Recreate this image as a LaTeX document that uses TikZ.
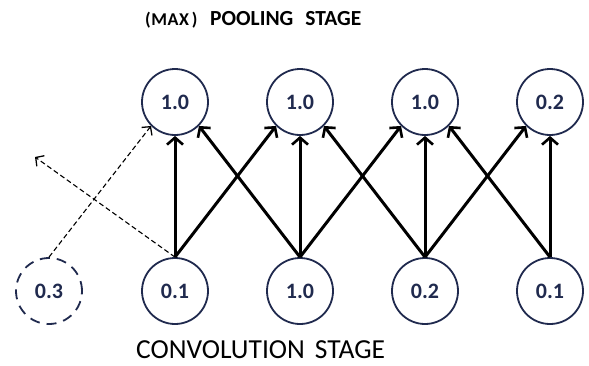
\documentclass[tikz,border=0pt]{standalone}
\usepackage{fontspec}
\setmainfont{Carlito}
\usetikzlibrary{arrows.meta}
\definecolor{navy}{RGB}{32,42,78}
\begin{document}
\begin{tikzpicture}[x=1pt,y=-1pt,
  unit/.style={circle,draw=navy,line width=1.8pt,minimum size=66pt,inner sep=0pt,
    text=navy,font=\fontsize{22}{25}\selectfont\bfseries},
  ghost/.style={unit,dashed,dash pattern=on 10pt off 7pt},
  link/.style={line width=3pt,-{Straight Barb[length=7pt,width=16pt,line width=2.6pt]}},
  hint/.style={line width=1.1pt,dash pattern=on 5pt off 3pt,
    -{Straight Barb[length=6pt,width=13pt,line width=1.3pt]}},
  caption/.style={inner sep=0pt,anchor=base west}]
\useasboundingbox (0,0) rectangle (589,365);

% pooling layer
\node[unit] (p1) at (175,102) {1.0};
\node[unit] (p2) at (300,102) {1.0};
\node[unit] (p3) at (425,102) {1.0};
\node[unit] (p4) at (550,102) {0.2};

% convolution layer
\node[ghost] (c0) at (49,291) {0.3};
\node[unit] (c1) at (175,291) {0.1};
\node[unit] (c2) at (300,291) {1.0};
\node[unit] (c3) at (425,291) {0.2};
\node[unit] (c4) at (550,291) {0.1};

% each pooling unit takes the max over three neighbours
\draw[link] (c1.north) -- (p1.south);
\draw[link] (c1.north) -- (p2.south west);
\draw[link] (c2.north) -- (p1.south east);
\draw[link] (c2.north) -- (p2.south);
\draw[link] (c2.north) -- (p3.south west);
\draw[link] (c3.north) -- (p2.south east);
\draw[link] (c3.north) -- (p3.south);
\draw[link] (c3.north) -- (p4.south west);
\draw[link] (c4.north) -- (p3.south east);
\draw[link] (c4.north) -- (p4.south);

% neighbours outside the shown window
\coordinate (off) at (35,157);
\draw[hint] (c0.north) -- (p1.south west);
\draw[hint] (c1.north) -- (off);

% stage labels
\node[caption] (max) at (145,25) {\fontsize{18}{20}\selectfont\bfseries\addfontfeature{LetterSpace=3}(MAX\,)};
\node[caption] (pool) at (210,25) {\fontsize{21.5}{24}\selectfont\bfseries POOLING\hspace{12pt}STAGE};
\node[caption] (conv) at (136,358) {\fontsize{27.5}{30}\selectfont CONVOLUTION\hspace{10pt}STAGE};
\end{tikzpicture}
\end{document}
